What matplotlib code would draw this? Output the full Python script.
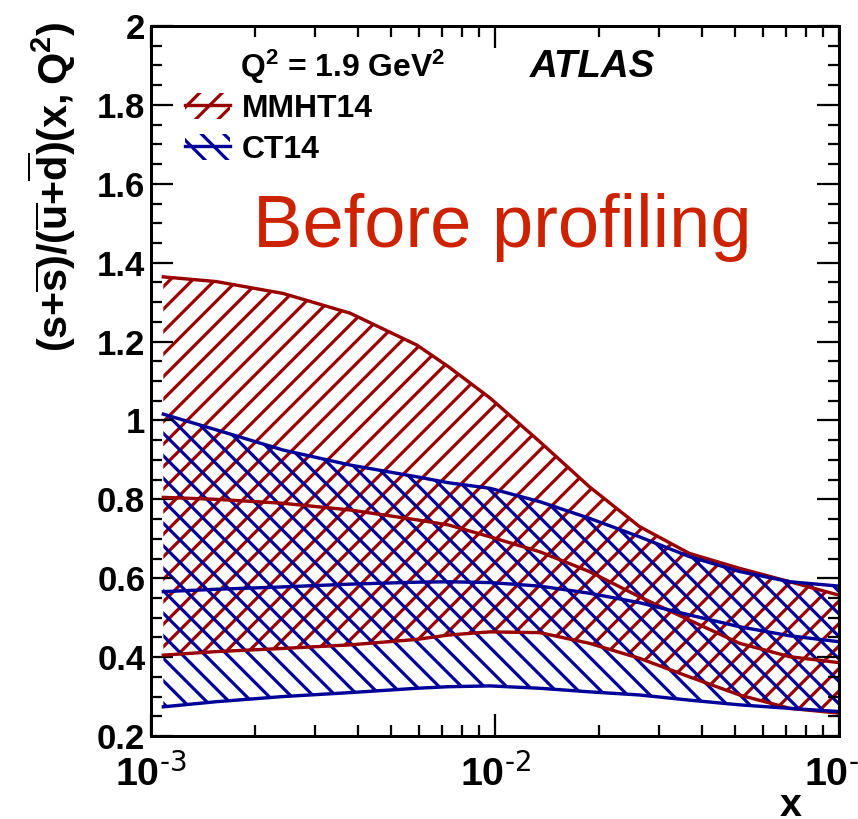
import matplotlib
matplotlib.use('Agg')
import matplotlib.pyplot as plt
from matplotlib.patches import Patch
from matplotlib.lines import Line2D
from matplotlib.ticker import FixedLocator, NullFormatter, LogLocator

# strange-to-light sea ratio bands vs x
x = [1.086e-3, 1.55e-3, 2.42e-3, 3.79e-3, 5.93e-3, 7.33e-3, 9.67e-3,
     1.35e-2, 1.88e-2, 2.63e-2, 3.67e-2, 5.14e-2, 7.2e-2, 0.1]

mmht_up = [1.364, 1.352, 1.322, 1.272, 1.191, 1.136, 1.057,
           0.946, 0.832, 0.731, 0.663, 0.625, 0.591, 0.557]
mmht_mid = [0.805, 0.800, 0.790, 0.773, 0.748, 0.735, 0.705,
            0.667, 0.617, 0.553, 0.494, 0.435, 0.401, 0.386]
mmht_lo = [0.405, 0.414, 0.422, 0.431, 0.445, 0.456, 0.464,
           0.462, 0.435, 0.397, 0.350, 0.304, 0.270, 0.258]

ct14_up = [1.016, 0.976, 0.925, 0.887, 0.857, 0.842, 0.828,
           0.794, 0.752, 0.705, 0.655, 0.617, 0.591, 0.580]
ct14_mid = [0.566, 0.572, 0.578, 0.585, 0.590, 0.591, 0.589,
            0.580, 0.562, 0.538, 0.507, 0.477, 0.454, 0.439]
ct14_lo = [0.274, 0.287, 0.300, 0.310, 0.321, 0.325, 0.327,
           0.321, 0.312, 0.304, 0.291, 0.279, 0.270, 0.262]

x_ticks = [1e-3, 1e-2, 1e-1]
x_ticklabels = [r'$10^{\text{-3}}$', r'$10^{\text{-2}}$', r'$10^{\text{-1}}$']
y_ticks = [0.2, 0.4, 0.6, 0.8, 1.0, 1.2, 1.4, 1.6, 1.8, 2.0]
y_ticklabels = ['0.2', '0.4', '0.6', '0.8', '1', '1.2', '1.4', '1.6', '1.8', '2']

RED = '#990000'
BLUE = '#000099'
DPI = 135
LW = 1.8

plt.rcParams['font.family'] = ['Liberation Sans', 'DejaVu Sans']
plt.rcParams['mathtext.default'] = 'regular'
plt.rcParams['hatch.linewidth'] = 1.7

fig = plt.figure(figsize=(858 / DPI, 819 / DPI), dpi=DPI)
ax = fig.add_axes([151 / 858, 83 / 819, 688 / 858, 710 / 819])
ax.set_xscale('log')
ax.set_xlim(1e-3, 1e-1)
ax.set_ylim(0.2, 2.0)

# hatched uncertainty bands
plt.rcParams['hatch.color'] = RED
ax.fill_between(x, mmht_lo, mmht_up, facecolor='none', edgecolor=RED,
                hatch='//', linewidth=0)
plt.rcParams['hatch.color'] = BLUE
ax.fill_between(x, ct14_lo, ct14_up, facecolor='none', edgecolor=BLUE,
                hatch='\\\\', linewidth=0)

for ys in (mmht_up, mmht_mid, mmht_lo):
    ax.plot(x, ys, color=RED, lw=LW)
for ys in (ct14_up, ct14_mid, ct14_lo):
    ax.plot(x, ys, color=BLUE, lw=LW)

# axes styling, ROOT-like ticks on all sides
for sp in ax.spines.values():
    sp.set_linewidth(1.6)
ax.xaxis.set_major_locator(FixedLocator(x_ticks))
ax.xaxis.set_minor_locator(LogLocator(base=10, subs=range(2, 10)))
ax.xaxis.set_minor_formatter(NullFormatter())
ax.set_xticklabels(x_ticklabels, fontsize=21, fontweight='bold')
ax.yaxis.set_major_locator(FixedLocator(y_ticks))
ax.yaxis.set_minor_locator(FixedLocator([0.2 + 0.05 * i for i in range(37)]))
ax.set_yticklabels(y_ticklabels, fontsize=18.5, fontweight='bold')
ax.tick_params(which='both', direction='in', top=True, right=True, width=1.2)
ax.tick_params(which='major', length=11.7)
ax.tick_params(which='minor', length=5.9)
ax.tick_params(axis='y', pad=3)
ax.tick_params(axis='x', pad=9.5)

fig.text(52 / 858, 1 - 187 / 819,
         r'$(s{+}\overline{s})/(\overline{u}{+}\overline{d})(x,Q^{2})$',
         rotation=90, ha='center', va='center', fontsize=22, fontweight='bold')
fig.text(791 / 858, 1 - 816 / 819, 'x', ha='center', va='baseline',
         fontsize=21, fontweight='bold')

ax.text(0.129, 0.928, r'Q$^{2}$ = 1.9 GeV$^{2}$', transform=ax.transAxes,
        fontsize=17, fontweight='bold', va='baseline')
ax.text(0.551, 0.928, 'ATLAS', transform=ax.transAxes, fontsize=20.5,
        fontweight='bold', fontstyle='italic', va='baseline')
ax.text(0.148, 0.689, 'Before profiling', transform=ax.transAxes,
        fontsize=39.5, color='#cc2200', va='baseline')

handles = [
    (Patch(facecolor='none', edgecolor=RED, hatch='//', linewidth=0),
     Line2D([], [], color=RED, lw=LW)),
    (Patch(facecolor='none', edgecolor=BLUE, hatch='\\\\', linewidth=0),
     Line2D([], [], color=BLUE, lw=LW)),
]
leg = ax.legend(handles, ['MMHT14', 'CT14'], loc='upper left',
                bbox_to_anchor=(0.049, 0.905), frameon=False, borderpad=0,
                borderaxespad=0, handlelength=1.41, handleheight=0.88,
                handletextpad=0.38, labelspacing=0.3,
                prop={'size': 17, 'weight': 'bold'})

fig.savefig('out.png', dpi=DPI)
